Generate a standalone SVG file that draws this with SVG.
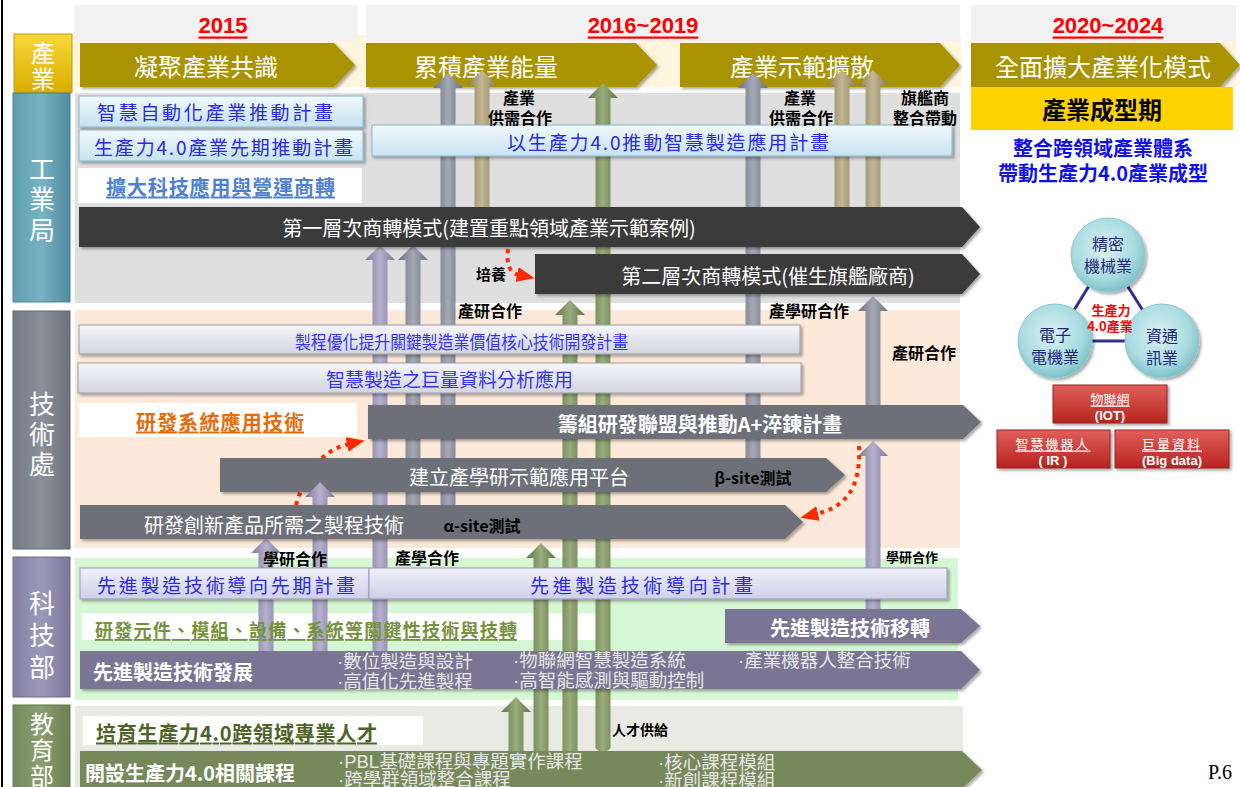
<svg xmlns="http://www.w3.org/2000/svg" width="1240" height="787" viewBox="0 0 1240 787">
<style>
.cjk{font-family:"Noto Sans CJK TC","Noto Sans",sans-serif}
.lat{font-family:"Liberation Sans",Arial,sans-serif}
.mid{text-anchor:middle;dominant-baseline:central}
.st{dominant-baseline:central}
.w{fill:#fff}
.year{font-family:"Liberation Sans",Arial,sans-serif;font-weight:bold;font-size:22px;fill:#ff0000;text-decoration:underline}
.pil{font-size:26px;fill:#fff}
.phase{font-size:24px;fill:#fff}
.lbl{font-size:16px;font-weight:bold;fill:#000}
.boxt{font-size:19px;fill:#2a2ae6}
.bar{font-size:20px;fill:#fff}
.item{font-family:"Liberation Sans","Noto Sans CJK TC",sans-serif;font-size:18.5px;fill:#e6e6e6}
.olive{fill:#a99406}
.dark{fill:#3b3b3b}
.gbar{fill:#6e7079}
.pbar{fill:#7a7494}
.ebar{fill:#77895a}
.col-g{fill:url(#gGray)}
.col-t{fill:url(#gTan)}
.col-n{fill:url(#gGreen)}
.col-p{fill:url(#gPurple)}
.red{fill:none;stroke:#ff2a00;stroke-width:4;stroke-dasharray:4 5}
.circ{fill:url(#gCirc);stroke:#8fc9cf;stroke-width:1}
.ct{font-size:16px;fill:#26267a}
.rbox{fill:url(#gRed);stroke:#9a2222;stroke-width:1}
.rt{font-size:13px;fill:#fff}
</style>
<defs>
<linearGradient id="gGray" x1="0" y1="0" x2="1" y2="0"><stop offset="0" stop-color="#6b7080"/><stop offset="0.5" stop-color="#a4a9b4"/><stop offset="1" stop-color="#6b7080"/></linearGradient>
<linearGradient id="gTan" x1="0" y1="0" x2="1" y2="0"><stop offset="0" stop-color="#8a7d5c"/><stop offset="0.5" stop-color="#c4b794"/><stop offset="1" stop-color="#8a7d5c"/></linearGradient>
<linearGradient id="gGreen" x1="0" y1="0" x2="1" y2="0"><stop offset="0" stop-color="#607346"/><stop offset="0.5" stop-color="#9aad7c"/><stop offset="1" stop-color="#607346"/></linearGradient>
<linearGradient id="gPurple" x1="0" y1="0" x2="1" y2="0"><stop offset="0" stop-color="#7c7898"/><stop offset="0.5" stop-color="#b5b1cd"/><stop offset="1" stop-color="#7c7898"/></linearGradient>
<linearGradient id="gBlueBox" x1="0" y1="0" x2="0" y2="1"><stop offset="0" stop-color="#f2f9fd"/><stop offset="1" stop-color="#c6e3f0"/></linearGradient>
<linearGradient id="gGrayBox" x1="0" y1="0" x2="0" y2="1"><stop offset="0" stop-color="#f6f6f9"/><stop offset="1" stop-color="#d3d5de"/></linearGradient>
<linearGradient id="gLavBox" x1="0" y1="0" x2="0" y2="1"><stop offset="0" stop-color="#f0f0fa"/><stop offset="1" stop-color="#cfd0e8"/></linearGradient>
<linearGradient id="gGold" x1="0" y1="0" x2="0" y2="1"><stop offset="0" stop-color="#f7d83a"/><stop offset="1" stop-color="#d9ad00"/></linearGradient>
<linearGradient id="gTeal" x1="0" y1="0" x2="1" y2="0"><stop offset="0" stop-color="#5d9db0"/><stop offset="0.5" stop-color="#78b3c4"/><stop offset="1" stop-color="#4f8b9e"/></linearGradient>
<linearGradient id="gSlate" x1="0" y1="0" x2="1" y2="0"><stop offset="0" stop-color="#767a86"/><stop offset="0.5" stop-color="#8c909b"/><stop offset="1" stop-color="#6d717c"/></linearGradient>
<linearGradient id="gViolet" x1="0" y1="0" x2="1" y2="0"><stop offset="0" stop-color="#8581a4"/><stop offset="0.5" stop-color="#9c98b9"/><stop offset="1" stop-color="#7b7799"/></linearGradient>
<linearGradient id="gOlive" x1="0" y1="0" x2="1" y2="0"><stop offset="0" stop-color="#758a5c"/><stop offset="0.5" stop-color="#8a9e70"/><stop offset="1" stop-color="#6c8054"/></linearGradient>
<radialGradient id="gCirc" cx="0.45" cy="0.4" r="0.6"><stop offset="0" stop-color="#d9f1f3"/><stop offset="0.7" stop-color="#a8dbe0"/><stop offset="1" stop-color="#7fc0c8"/></radialGradient>
<linearGradient id="gRed" x1="0" y1="0" x2="0" y2="1"><stop offset="0" stop-color="#e0605a"/><stop offset="1" stop-color="#b8221e"/></linearGradient>
<filter id="sh" x="-5%" y="-20%" width="110%" height="150%"><feDropShadow dx="2" dy="2" stdDeviation="1.5" flood-color="#000" flood-opacity="0.35"/></filter>
<marker id="rarr" markerWidth="18" markerHeight="15" refX="2" refY="7.5" orient="auto" markerUnits="userSpaceOnUse"><path d="M0,0 L18,7.5 L0,15 Z" fill="#ff2a00"/></marker>
</defs>

<g id="background">
<rect x="0" y="0" width="1240" height="787" fill="#fff"/>
<line x1="2" y1="0" x2="2" y2="787" stroke="#000" stroke-width="2"/>
<rect x="74" y="35" width="887" height="52" fill="#fdf5dc"/>
<rect x="971" y="35" width="265" height="52" fill="#fdf5dc"/>
<rect x="75" y="93" width="885" height="210" fill="#dfdfdf"/>
<rect x="75" y="310" width="885" height="238" fill="#fde9d9"/>
<rect x="75" y="558" width="883" height="142" fill="#d6f7d4"/>
<rect x="75" y="706" width="888" height="81" fill="#e8eae3"/>
</g>

<g id="headers">
<rect x="74" y="5" width="284" height="36" fill="#f2f2f2"/>
<rect x="366" y="5" width="594" height="36" fill="#f2f2f2"/>
<rect x="971" y="5" width="265" height="36" fill="#f2f2f2"/>
<text class="year mid" x="223" y="25">2015</text>
<text class="year mid" x="643" y="25">2016~2019</text>
<text class="year mid" x="1108" y="25">2020~2024</text>
</g>

<g id="pillars" class="cjk">
<g id="pillar-industry"><rect x="14" y="34" width="58" height="59" fill="url(#gGold)" stroke="#c09a00"/><text class="mid w" x="43" y="51" font-size="24">產</text><text class="mid w" x="43" y="77" font-size="24">業</text></g>
<g id="pillar-moea"><rect x="13" y="93" width="57" height="209" fill="url(#gTeal)" stroke="#4a8496"/><text class="mid pil" x="42" y="167">工</text><text class="mid pil" x="42" y="197">業</text><text class="mid pil" x="42" y="228">局</text></g>
<g id="pillar-doit"><rect x="13" y="311" width="57" height="238" fill="url(#gSlate)" stroke="#62666f"/><text class="mid pil" x="42" y="402">技</text><text class="mid pil" x="42" y="432">術</text><text class="mid pil" x="42" y="462">處</text></g>
<g id="pillar-most"><rect x="13" y="557" width="57" height="140" fill="url(#gViolet)" stroke="#6f6b8c"/><text class="mid pil" x="42" y="601">科</text><text class="mid pil" x="42" y="633">技</text><text class="mid pil" x="42" y="665">部</text></g>
<g id="pillar-moe"><rect x="13" y="705" width="57" height="84" fill="url(#gOlive)" stroke="#62744b"/><text class="mid w" x="42" y="722" font-size="24">教</text><text class="mid w" x="42" y="748" font-size="24">育</text><text class="mid w" x="42" y="774" font-size="24">部</text></g>
</g>

<g id="phases" class="cjk">
<g id="phase1"><polygon class="olive" points="80,43 334,43 355,65 334,87 80,87" filter="url(#sh)"/><text class="mid phase" x="206" y="65">凝聚產業共識</text></g>
<g id="phase2"><polygon class="olive" points="366,43 636,43 657,65 636,87 366,87" filter="url(#sh)"/><text class="mid phase" x="486" y="65">累積產業能量</text></g>
<g id="phase3"><polygon class="olive" points="680,43 940,43 960,65 940,87 680,87" filter="url(#sh)"/><text class="mid phase" x="802" y="65">產業示範擴散</text></g>
<g id="phase4"><polygon class="olive" points="971,43 1220,43 1240,65 1220,87 971,87" filter="url(#sh)"/><text class="mid phase" x="1103" y="65">全面擴大產業化模式</text></g>
<g id="phase-form"><rect x="971" y="87" width="262" height="43" fill="#ffd200"/><text class="mid" x="1102" y="108" font-size="24" font-weight="bold" fill="#000">產業成型期</text></g>
<g id="phase-goal"><text class="mid" x="1103" y="147" font-size="20" font-weight="bold" fill="#1010f0">整合跨領域產業體系</text><text class="mid" x="1103" y="172" font-size="20" font-weight="bold" fill="#1010f0">帶動生產力4.0產業成型</text></g>
</g>

<g id="label-backs">
<rect x="78" y="168" width="284" height="35" fill="#fff"/>
<rect x="79" y="403" width="278" height="34" fill="#fff"/>
<rect x="82" y="613" width="516" height="27" fill="#fff"/>
<rect x="83" y="716" width="340" height="29" fill="#fff"/>
</g>

<g id="connectors">
<path class="col-p" d="M258.5,660 V553 H251 L266,538 L281,553 H273.5 V660 Z"/>
<path class="col-p" d="M372.5,660 V260 H365 L380,245 L395,260 H387.5 V660 Z"/>
<path class="col-g" d="M405.5,530 V260 H398 L413,245 L428,260 H420.5 V530 Z"/>
<path class="col-g" d="M440.5,530 V88 H433 L448,73 L463,88 H455.5 V530 Z"/>
<path class="col-t" d="M474.5,240 V85 H467 L482,70 L497,85 H489.5 V240 Z"/>
<path class="col-n" d="M508.5,770 V712 H501 L516,697 L531,712 H523.5 V770 Z"/>
<path class="col-n" d="M533.5,770 V558 H526 L541,543 L556,558 H548.5 V770 Z"/>
<path class="col-n" d="M562.5,770 V315 H555 L570,300 L585,315 H577.5 V770 Z"/>
<path class="col-n" d="M595.5,748 V98 H588 L603,83 L618,98 H610.5 V748 Q603,756 595.5,748 Z"/>
<path class="col-g" d="M745.5,480 V88 H738 L753,73 L768,88 H760.5 V480 Z"/>
<path class="col-t" d="M834.5,240 V85 H827 L842,70 L857,85 H849.5 V240 Z"/>
<path class="col-t" d="M865.5,240 V85 H858 L873,70 L888,85 H880.5 V240 Z"/>
<path class="col-g" d="M865.5,420 V311 H858 L873,296 L888,311 H880.5 V420 Z"/>
<path class="col-p" d="M865.5,620 V456 H858 L873,441 L888,456 H880.5 V620 Z"/>
</g>

<g id="moea-nodes" class="cjk">
<g id="n-auto"><rect x="79" y="96" width="284" height="31" fill="url(#gBlueBox)" stroke="#86b6cc" filter="url(#sh)"/><text class="st boxt" x="97" y="111" textLength="236" lengthAdjust="spacing">智慧自動化產業推動計畫</text></g>
<g id="n-pre40"><rect x="79" y="130" width="284" height="31" fill="url(#gBlueBox)" stroke="#86b6cc" filter="url(#sh)"/><text class="st boxt" x="94" y="146" textLength="259" lengthAdjust="spacing">生產力4.0產業先期推動計畫</text></g>
<g id="n-expand"><text class="st" x="106" y="186" font-size="20" font-weight="bold" fill="#4f81d0" text-decoration="underline" textLength="229" lengthAdjust="spacing">擴大科技應用與營運商轉</text></g>
<g id="n-smart40"><rect x="372" y="125" width="580" height="31" fill="url(#gBlueBox)" stroke="#86b6cc" filter="url(#sh)"/><text class="st boxt" x="507" y="141" textLength="322" lengthAdjust="spacing">以生產力4.0推動智慧製造應用計畫</text></g>
<g id="n-tier1"><polygon class="dark" points="79,207 962,207 980,227 962,247 79,247" filter="url(#sh)"/><text class="mid bar" x="489" y="227">第一層次商轉模式(建置重點領域產業示範案例)</text></g>
<g id="n-tier2"><polygon class="dark" points="535,254 962,254 980,274 962,294 535,294" filter="url(#sh)"/><text class="mid bar" x="768" y="275">第二層次商轉模式(催生旗艦廠商)</text></g>
</g>

<g id="doit-nodes" class="cjk">
<g id="n-process"><rect x="79" y="325" width="721" height="29" fill="url(#gGrayBox)" stroke="#9a9ca8" filter="url(#sh)"/><text class="st" x="295" y="341" font-size="18" fill="#3333ff" textLength="333" lengthAdjust="spacingAndGlyphs">製程優化提升關鍵製造業價值核心技術開發計畫</text></g>
<g id="n-bigdata"><rect x="78" y="363" width="723" height="30" fill="url(#gGrayBox)" stroke="#9a9ca8" filter="url(#sh)"/><text class="st" x="326" y="378" font-size="19" fill="#3333ff" textLength="247" lengthAdjust="spacing">智慧製造之巨量資料分析應用</text></g>
<g id="n-sysapp"><text class="st" x="136" y="421" font-size="20" font-weight="bold" fill="#e46c0a" text-decoration="underline" textLength="168" lengthAdjust="spacing">研發系統應用技術</text></g>
<g id="n-alliance"><polygon class="gbar" points="368,405 963,405 981,422 963,439 368,439" filter="url(#sh)"/><text class="mid bar" x="700" y="423" font-weight="bold">籌組研發聯盟與推動A+淬鍊計畫</text></g>
</g>

<g id="connectors-mid">
<path class="red" d="M296,505 Q312,452 349,444" marker-end="url(#rarr)"/>
</g>

<g id="doit-nodes-2" class="cjk">
<g id="n-platform"><polygon class="gbar" points="220,458 826,458 845,475 826,492 220,492" filter="url(#sh)"/><text class="mid bar" x="519" y="476">建立產學研示範應用平台</text><text class="mid" x="753" y="477" font-size="16" font-weight="bold" fill="#000">β-site測試</text></g>
</g>

<g id="connectors-front">
<path class="col-p" d="M312.5,660 V497 H305 L320,482 L335,497 H327.5 V660 Z"/>
</g>

<g id="doit-nodes-3" class="cjk">
<g id="n-newprod"><polygon class="gbar" points="80,505 785,505 803,522 785,539 80,539" filter="url(#sh)"/><text class="mid bar" x="274" y="524">研發創新產品所需之製程技術</text><text class="mid" x="482" y="525" font-size="16" font-weight="bold" fill="#000">α-site測試</text></g>
</g>

<g id="connectors-red">
<path class="red" d="M508,249 Q505,272 519,275" marker-end="url(#rarr)"/>
<path class="red" d="M859,446 C861,488 846,507 816,514" marker-end="url(#rarr)"/>
</g>

<g id="most-nodes" class="cjk">
<g id="n-adv-pre"><rect x="80" y="568" width="289" height="31" fill="url(#gLavBox)" stroke="#9a98b8" filter="url(#sh)"/><text class="st boxt" x="97" y="584" textLength="258" lengthAdjust="spacing">先進製造技術導向先期計畫</text></g>
<g id="n-adv"><rect x="369" y="568" width="578" height="31" fill="url(#gLavBox)" stroke="#9a98b8" filter="url(#sh)"/><text class="st boxt" x="530" y="584" textLength="223" lengthAdjust="spacing">先進製造技術導向計畫</text></g>
<g id="n-keytech"><text class="st" x="95" y="629" font-size="18" font-weight="bold" fill="#76923c" text-decoration="underline" textLength="422" lengthAdjust="spacing">研發元件、模組、設備、系統等關鍵性技術與技轉</text></g>
<g id="n-transfer"><polygon class="pbar" points="725,609 961,609 980,626 961,643 725,643" filter="url(#sh)"/><text class="mid bar" x="850" y="627" font-weight="bold">先進製造技術移轉</text></g>
<g id="n-advdev"><polygon class="pbar" points="80,651 961,651 980,670 961,689 80,689" filter="url(#sh)"/><text class="st bar" x="93" y="671" font-weight="bold">先進製造技術發展</text>
<text class="st item" x="337" y="661">·數位製造與設計</text><text class="st item" x="337" y="681">·高值化先進製程</text>
<text class="st item" x="513" y="660">·物聯網智慧製造系統</text><text class="st item" x="513" y="680">·高智能感測與驅動控制</text>
<text class="st item" x="738" y="660">·產業機器人整合技術</text></g>
</g>

<g id="moe-nodes" class="cjk">
<g id="n-talent"><text class="st" x="96" y="732" font-size="20" font-weight="bold" fill="#4f6228" text-decoration="underline" textLength="281" lengthAdjust="spacing">培育生產力4.0跨領域專業人才</text></g>
<g id="n-courses"><polygon class="ebar" points="80,751 962,751 982,770 962,789 80,789" filter="url(#sh)"/><text class="st bar" x="85" y="772" font-weight="bold">開設生產力4.0相關課程</text>
<text class="st item" x="338" y="761">·PBL基礎課程與專題實作課程</text><text class="st item" x="338" y="779">·跨學群領域整合課程</text>
<text class="st item" x="658" y="762">·核心課程模組</text><text class="st item" x="658" y="780">·新創課程模組</text></g>
</g>

<g id="labels" class="cjk">
<text class="mid lbl" x="519" y="97">產業</text><text class="mid lbl" x="520" y="117">供需合作</text>
<text class="mid lbl" x="800" y="97">產業</text><text class="mid lbl" x="801" y="117">供需合作</text>
<text class="mid lbl" x="925" y="97">旗艦商</text><text class="mid lbl" x="925" y="117">整合帶動</text>
<text class="mid" x="491" y="273" font-size="15" font-weight="bold">培養</text>
<text class="mid lbl" x="490" y="310">產研合作</text>
<text class="mid lbl" x="809" y="310">產學研合作</text>
<text class="mid lbl" x="924" y="352">產研合作</text>
<text class="mid lbl" x="295" y="558">學研合作</text>
<text class="mid lbl" x="427" y="557">產學合作</text>
<text class="mid" x="912" y="556" font-size="13" font-weight="bold">學研合作</text>
<text class="mid" x="640" y="729" font-size="14" font-weight="bold">人才供給</text>
</g>

<g id="industry-panel" class="cjk">
<polygon points="1108,255 1055,341 1162,341" fill="none" stroke="#2e3192" stroke-width="3"/>
<g id="c-machine"><circle class="circ" cx="1108" cy="255" r="37" filter="url(#sh)"/><text class="mid ct" x="1108" y="243">精密</text><text class="mid ct" x="1108" y="265">機械業</text></g>
<g id="c-elec"><circle class="circ" cx="1055" cy="341" r="37" filter="url(#sh)"/><text class="mid ct" x="1055" y="334">電子</text><text class="mid ct" x="1055" y="356">電機業</text></g>
<g id="c-ict"><circle class="circ" cx="1162" cy="341" r="37" filter="url(#sh)"/><text class="mid ct" x="1162" y="335">資通</text><text class="mid ct" x="1162" y="357">訊業</text></g>
<text class="mid" x="1111" y="309" font-size="13" font-weight="bold" fill="#ff0000">生產力</text>
<text class="mid" x="1110" y="325" font-size="13" font-weight="bold" fill="#ff0000">4.0產業</text>
<g id="r-iot"><rect class="rbox" x="1053" y="385" width="114" height="38" filter="url(#sh)"/><text class="mid rt" x="1110" y="398" text-decoration="underline">物聯網</text><text class="mid rt lat" x="1110" y="415" font-weight="bold">(IOT)</text></g>
<g id="r-ir"><rect class="rbox" x="997" y="430" width="113" height="38" filter="url(#sh)"/><text class="mid rt" x="1053" y="443" text-decoration="underline" letter-spacing="2">智慧機器人</text><text class="mid rt lat" x="1053" y="460" font-weight="bold">( IR )</text></g>
<g id="r-bd"><rect class="rbox" x="1115" y="430" width="114" height="38" filter="url(#sh)"/><text class="mid rt" x="1172" y="443" text-decoration="underline" letter-spacing="2">巨量資料</text><text class="mid rt lat" x="1172" y="460" font-weight="bold">(Big data)</text></g>
</g>

<text x="1232" y="779" font-family="Liberation Serif,serif" font-size="20" text-anchor="end" fill="#000">P.6</text>
</svg>
